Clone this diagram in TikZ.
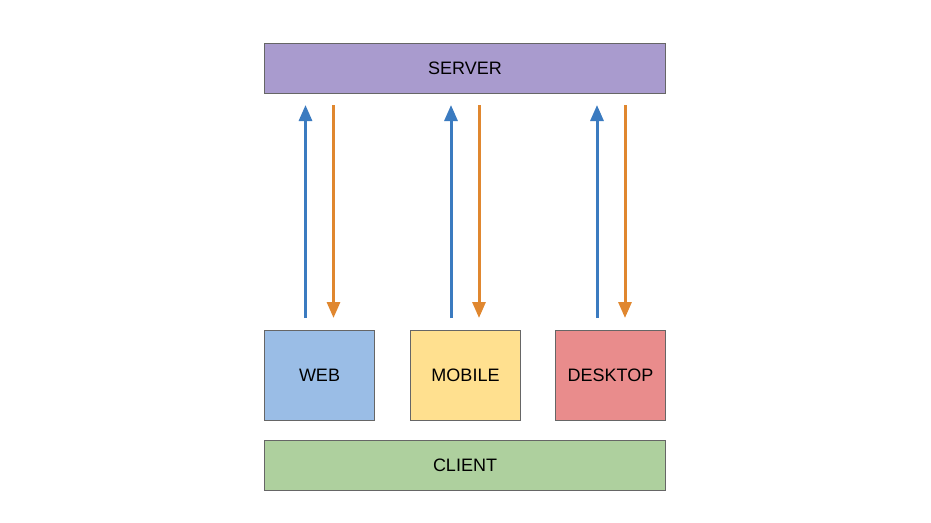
\documentclass[tikz,border=0pt]{standalone}
\usepackage{fontspec}
\setmainfont{Liberation Sans}
\usetikzlibrary{arrows.meta}
\definecolor{srvfill}{HTML}{A99BCE}
\definecolor{webfill}{HTML}{9ABDE6}
\definecolor{mobfill}{HTML}{FFE08F}
\definecolor{deskfill}{HTML}{E98C8C}
\definecolor{clifill}{HTML}{AED09E}
\definecolor{upblue}{HTML}{3B7BC0}
\definecolor{downorange}{HTML}{E0872F}
\definecolor{edgegray}{HTML}{666666}
\tikzset{
  box/.style={draw=edgegray, line width=1pt, anchor=north west, inner sep=0pt,
    font=\fontsize{18}{21}\selectfont, text=black},
  upar/.style={draw=upblue, line width=3pt, -{Triangle[width=13pt,length=16pt]}},
  downar/.style={draw=downorange, line width=3pt, -{Triangle[width=13pt,length=16pt]}}
}
\begin{document}
\begin{tikzpicture}[x=1pt,y=-1pt]
\useasboundingbox (0,0) rectangle (931,522);
\node[box, fill=srvfill, minimum width=401pt, minimum height=50pt] (server) at (264,43) {SERVER};
\node[box, fill=webfill, minimum width=110pt, minimum height=90pt] (web) at (264,330) {WEB};
\node[box, fill=mobfill, minimum width=110pt, minimum height=90pt] (mobile) at (410,330) {MOBILE};
\node[box, fill=deskfill, minimum width=110pt, minimum height=90pt] (desktop) at (555,330) {DESKTOP};
\node[box, fill=clifill, minimum width=401pt, minimum height=50pt] (client) at (264,440) {CLIENT};
\coordinate (wu0) at (305.5,318); \coordinate (wu1) at (305.5,105);
\coordinate (wd0) at (333.5,105); \coordinate (wd1) at (333.5,318);
\coordinate (mu0) at (451,318); \coordinate (mu1) at (451,105);
\coordinate (md0) at (479,105); \coordinate (md1) at (479,318);
\coordinate (du0) at (597,318); \coordinate (du1) at (597,105);
\coordinate (dd0) at (625,105); \coordinate (dd1) at (625,318);
\draw[upar] (wu0) -- (wu1);
\draw[downar] (wd0) -- (wd1);
\draw[upar] (mu0) -- (mu1);
\draw[downar] (md0) -- (md1);
\draw[upar] (du0) -- (du1);
\draw[downar] (dd0) -- (dd1);
\end{tikzpicture}
\end{document}
